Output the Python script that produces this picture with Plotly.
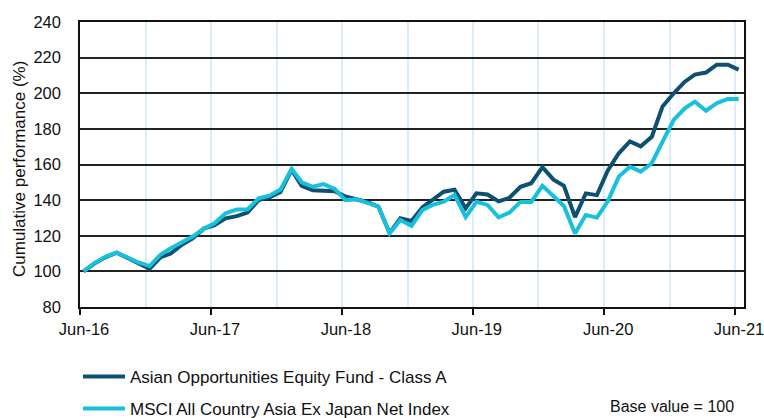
import plotly.graph_objects as go
import pandas as pd

# Monthly observation dates (month-end), Jun-2016 .. Jun-2021
dates = pd.date_range("2016-06-30", "2021-06-30", freq="ME").strftime("%Y-%m-%d").tolist()

fund_name = "Asian Opportunities Equity Fund - Class A"
index_name = "MSCI All Country Asia Ex Japan Net Index"

fund = [100, 104.5, 108, 110.5, 107.5, 104.5, 101.5, 108, 110, 115,
        118.5, 124, 126, 129.8, 131, 133, 140, 141.5, 144.5, 157,
        148, 145.5, 145.5, 145, 142, 140.5, 138.8, 136.3, 121.5, 129.8,
        128.3, 136, 140, 144.7, 145.8, 135.4, 143.8, 143.2, 139.3, 141.3,
        147.5, 149.5, 158.5, 151.5, 148, 130.5, 143.8, 142.8, 156.5, 166.3,
        173, 170.2, 175.6, 192.6, 200, 206.5, 210.5, 211.6, 216, 216,
        213.3]

index = [100, 104.8, 108.3, 110.5, 107.8, 105, 103, 109.5, 113, 116.5,
         119.5, 124, 127, 132.6, 134.8, 134.8, 141, 142.5, 146, 157.5,
         150, 147.5, 149, 146.3, 140, 140.5, 138.6, 136.3, 121.3, 128.8,
         125.5, 134.5, 137.3, 139.1, 142.9, 130.5, 139.1, 137.3, 130.4, 133,
         139, 139, 148, 142.3, 136.7, 121.3, 131.6, 130.2, 139.2, 153.2,
         158.8, 156, 160.7, 172.8, 185, 191.5, 195.3, 190.2, 194.4, 196.8,
         196.8]

tick_dates = ["2016-06-20", "2017-06-20", "2018-06-20", "2019-06-20", "2020-06-20", "2021-06-20"]
tick_labels = ["Jun-16", "Jun-17", "Jun-18", "Jun-19", "Jun-20", "Jun-21"]
half_year_dates = ["2016-12-20", "2017-12-20", "2018-12-20", "2019-12-20", "2020-12-20"]
y_ticks = [80, 100, 120, 140, 160, 180, 200, 220, 240]

DARK = "#0d5070"
CYAN = "#17c0dc"
FONT = "Liberation Sans, Arial, sans-serif"

W, H = 764, 418
L, R, T, B = 80, 20, 22, 111
PW, PH = W - L - R, H - T - B


def px_x(x):
    return (x - L) / PW


def px_y(y):
    return (H - B - y) / PH


fig = go.Figure()
fig.add_trace(go.Scatter(x=dates, y=fund, name=fund_name, mode="lines",
                         line=dict(color=DARK, width=4), legend="legend"))
fig.add_trace(go.Scatter(x=dates, y=index, name=index_name, mode="lines",
                         line=dict(color=CYAN, width=4), legend="legend2"))

fig.update_layout(
    width=W, height=H,
    margin=dict(l=L, r=R, t=T, b=B, autoexpand=False),
    paper_bgcolor="white", plot_bgcolor="white",
    font=dict(family=FONT, size=16, color="#111111"),
    legend=dict(x=px_x(78), y=px_y(359), xanchor="left", yanchor="top",
                font=dict(size=17), bgcolor="rgba(0,0,0,0)", itemwidth=42),
    legend2=dict(x=px_x(78), y=px_y(391), xanchor="left", yanchor="top",
                 font=dict(size=17), bgcolor="rgba(0,0,0,0)", itemwidth=42),
    showlegend=True,
)

fig.update_xaxes(
    type="date", automargin=False,
    range=["2016-06-20", "2021-07-15"],
    tickmode="array", tickvals=tick_dates, ticktext=tick_labels,
    ticks="outside", ticklen=6, tickcolor="#111111", tickwidth=1.5,
    ticklabelstandoff=0, ticklabelshift=4, ticklabeloverflow="allow",
    showline=True, linecolor="#111111", linewidth=1.5, mirror=True,
    showgrid=True, gridcolor="#dcedfa", gridwidth=1.5,
    minor=dict(tickmode="array", tickvals=half_year_dates, showgrid=True,
               gridcolor="#dcedfa", gridwidth=1.5, ticks=""),
    tickfont=dict(size=16.5), zeroline=False,
)
fig.update_yaxes(
    range=[80, 240], tickmode="array", tickvals=y_ticks, automargin=False,
    showline=True, linecolor="#111111", linewidth=1.5, mirror=True,
    showgrid=True, gridcolor="#222222", gridwidth=1.5,
    ticks="", ticklabelstandoff=14, tickfont=dict(size=16.5), zeroline=False,
    ticklabeloverflow="allow",
)

fig.add_annotation(text="Cumulative performance (%)", textangle=-90,
                   xref="paper", yref="paper", x=px_x(19), y=px_y(169),
                   xanchor="center", yanchor="middle", showarrow=False,
                   font=dict(size=17))
fig.add_annotation(text="Base value = 100", xref="paper", yref="paper",
                   x=px_x(736), y=px_y(406),
                   xanchor="right", yanchor="middle", showarrow=False,
                   font=dict(size=16))

fig.write_html("out.html", config={"displayModeBar": False},
               post_script="document.body.style.margin='0';document.body.style.overflow='hidden';")
